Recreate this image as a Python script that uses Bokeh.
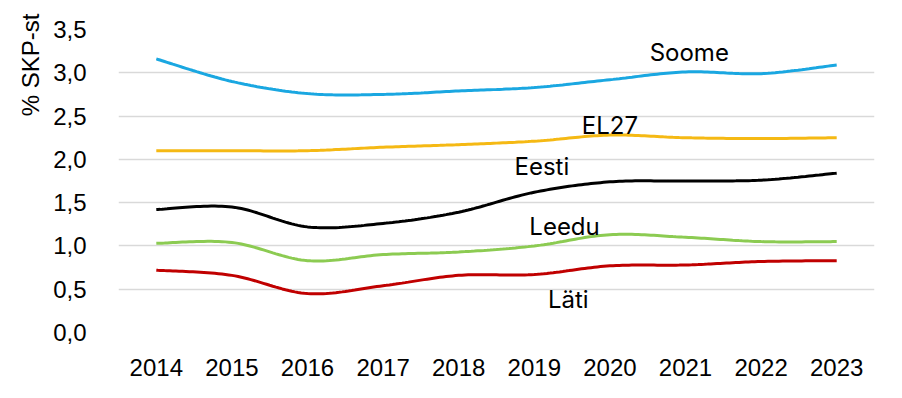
import numpy as np
from bokeh.plotting import figure
from bokeh.models import Range1d, FixedTicker, CustomJSTickFormatter, Title
from bokeh.core.properties import value
from bokeh.embed import file_html
from bokeh.resources import INLINE

years = [2014, 2015, 2016, 2017, 2018, 2019, 2020, 2021, 2022, 2023]
soome = [3.16, 2.90, 2.76, 2.75, 2.79, 2.83, 2.92, 3.01, 2.99, 3.09]
el27 = [2.10, 2.10, 2.10, 2.14, 2.17, 2.21, 2.28, 2.25, 2.24, 2.25]
eesti = [1.42, 1.45, 1.22, 1.26, 1.39, 1.62, 1.74, 1.75, 1.76, 1.84]
leedu = [1.03, 1.04, 0.83, 0.90, 0.93, 1.00, 1.13, 1.10, 1.05, 1.05]
lati = [0.72, 0.66, 0.45, 0.54, 0.66, 0.67, 0.77, 0.78, 0.82, 0.83]

series_names = ["Soome", "EL27", "Eesti", "Leedu", "Läti"]
series_vals = [soome, el27, eesti, leedu, lati]
series_colors = ["#1AA7E1", "#F5B914", "#000000", "#8CCB52", "#C00000"]
label_x = [2021.05, 2020.0, 2019.1, 2019.4, 2019.45]
label_y = [3.23, 2.39, 1.92, 1.22, 0.38]

y_ticks = [0.0, 0.5, 1.0, 1.5, 2.0, 2.5, 3.0, 3.5]
y_title = "% SKP-st"

AXFONT = "Liberation Sans"
LBLFONT = "Inter"


def smooth(xs, ys, n=24):
    # Excel-style smoothed line (cubic Bezier, Catmull-Rom control points)
    P = np.column_stack([np.asarray(xs, float), np.asarray(ys, float)])
    m = len(P)
    out = []
    for i in range(m - 1):
        p0 = P[i - 1] if i > 0 else P[i]
        p1 = P[i]
        p2 = P[i + 1]
        p3 = P[i + 2] if i + 2 < m else P[i + 1]
        c1 = p1 + (p2 - p0) / 6.0
        c2 = p2 - (p3 - p1) / 6.0
        t = np.linspace(0, 1, n, endpoint=(i == m - 2))[:, None]
        b = ((1 - t) ** 3) * p1 + 3 * ((1 - t) ** 2) * t * c1 + 3 * (1 - t) * t ** 2 * c2 + t ** 3 * p2
        out.append(b)
    arr = np.vstack(out)
    return arr[:, 0], arr[:, 1]


p = figure(
    frame_width=756, frame_height=303,
    min_border_left=118, min_border_right=20, min_border_top=29, min_border_bottom=60,
    x_range=Range1d(2013.5, 2023.5), y_range=Range1d(0, 3.5),
    output_backend="svg", toolbar_location=None,
)
p.outline_line_color = None
p.background_fill_color = "white"
p.border_fill_color = "white"

p.xgrid.visible = False
p.ygrid.grid_line_color = "#D9D9D9"
p.ygrid.grid_line_width = 1.5
p.ygrid.ticker = FixedTicker(ticks=y_ticks)

p.yaxis.ticker = FixedTicker(ticks=y_ticks)
p.yaxis.formatter = CustomJSTickFormatter(code="return tick.toFixed(1).replace('.', ',');")
p.xaxis.ticker = FixedTicker(ticks=years)
p.xaxis.formatter = CustomJSTickFormatter(code="return tick.toFixed(0);")

for ax in (p.xaxis[0], p.yaxis[0]):
    ax.axis_line_color = None
    ax.major_tick_line_color = None
    ax.minor_tick_line_color = None
    ax.major_label_text_font = AXFONT
    ax.major_label_text_font_size = "24px"
    ax.major_label_text_color = "#000000"

p.yaxis.major_label_standoff = 26
p.xaxis.major_label_standoff = 20

p.add_layout(Title(text=y_title, align="right", offset=-16,
                   text_font=AXFONT, text_font_size="24px",
                   text_font_style="normal", text_color="#000000",
                   standoff=14), "left")

for name, vals, col in zip(series_names, series_vals, series_colors):
    sx, sy = smooth(years, vals)
    p.line(sx, sy, line_color=col, line_width=3)

p.text(x=label_x, y=label_y, text=series_names,
       text_font=value(LBLFONT), text_font_size="24px", text_color="#000000",
       text_align="center", text_baseline="middle")

open("out.html", "w").write(file_html(p, INLINE))
